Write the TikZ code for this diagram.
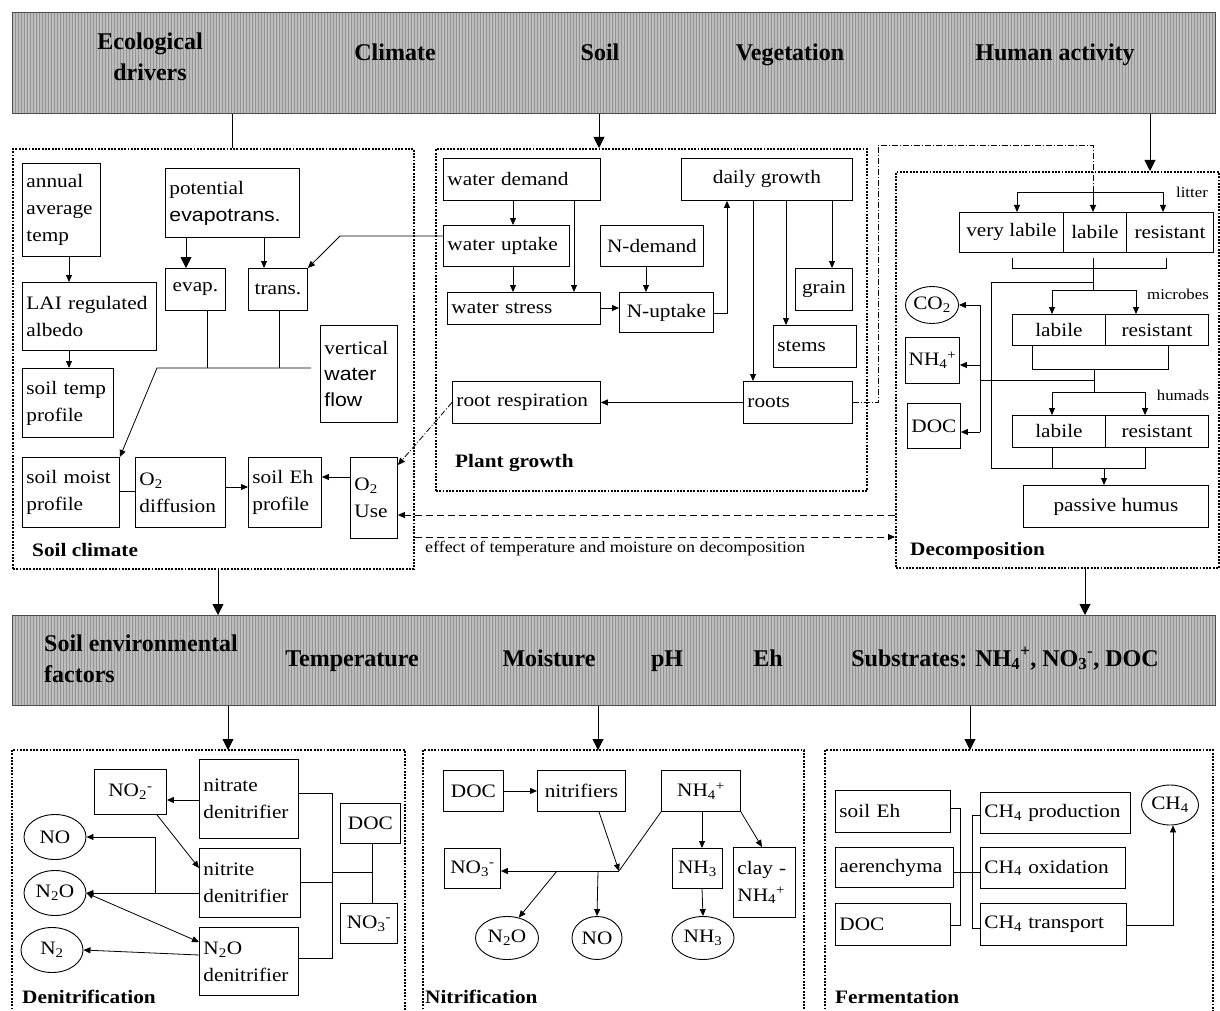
\documentclass[tikz,border=0pt]{standalone}
\usepackage{fontspec}
\setmainfont{Liberation Serif}[FakeStretch=1.12]
\setsansfont{Liberation Sans}[FakeStretch=1.12]
\newfontfamily\banfont{Liberation Serif}
\usetikzlibrary{arrows.meta,shapes.geometric,patterns}
\newcommand\myf{\fontsize{19}{27}\selectfont}
\newcommand\secf{\fontsize{19}{22}\selectfont\bfseries}
\newcommand\smf{\fontsize{15}{17}\selectfont}
\newcommand\banf{\banfont\fontsize{24}{31}\selectfont\bfseries}
\newcommand\sbs[1]{\textsubscript{#1}}
\newcommand\sps[1]{\textsuperscript{#1}}
\tikzset{
  bx/.style 2 args={draw, line width=0.9pt, anchor=north west, minimum width=#1, minimum height=#2, inner sep=2pt, align=center, font=\myf},
  lbx/.style n args={3}{draw, line width=0.9pt, anchor=north west, minimum width=#1, minimum height=#2, inner xsep=4pt, inner ysep=0pt, text width=#3, align=left, font=\myf},
  el/.style 2 args={draw, ellipse, line width=0.9pt, minimum width=#1, minimum height=#2, inner sep=0pt, font=\myf},
  dotbox/.style={line width=1.9pt, dash pattern=on 1.9pt off 1.4pt},
  secbox/.style 2 args={dotbox, draw, anchor=north west, minimum width=#1, minimum height=#2, inner sep=0pt},
  banner/.style 2 args={draw=black!70, line width=0.8pt, anchor=north west, minimum width=#1, minimum height=#2, inner sep=0pt, preaction={fill=black!26}, pattern=vertical lines, pattern color=black!42},
  bant/.style={font=\banf, align=center, inner sep=0pt},
  bantb/.style={font=\banf, anchor=base, inner sep=0pt},
  seclab/.style={font=\secf, anchor=west, inner sep=0pt},
  smlab/.style={font=\smf, inner sep=0pt},
  arr/.style={line width=0.8pt, -{Triangle[length=7pt,width=6pt]}},
  barr/.style={line width=0.9pt, -{Triangle[length=11pt,width=11pt]}},
  darr/.style={line width=0.8pt, {Triangle[length=7pt,width=6pt]}-{Triangle[length=7pt,width=6pt]}},
  ln/.style={line width=0.8pt},
  dd/.style={line width=0.8pt, dash pattern=on 6pt off 2pt on 1pt off 2pt},
  dsh/.style={line width=0.8pt, dash pattern=on 7pt off 4pt},
}
\begin{document}
\begin{tikzpicture}[x=1pt,y=-1pt]
\fill[white] (0,0) rectangle (1220,1011);
\useasboundingbox (0,0) rectangle (1220,1011);

% ---------- top banner ----------
\node[banner={1203}{101}] (ban1) at (12,12) {};
\node[bant] (t1) at (150,57) {Ecological\\drivers};
\node[bantb] (t2) at (395,61) {Climate};
\node[bantb] (t3) at (600,61) {Soil};
\node[bantb] (t4) at (790,61) {Vegetation};
\node[bantb] (t5) at (1055,61) {Human activity};

% ---------- section boxes ----------
\node[secbox={401}{420}] (sc) at (12,148) {};
\node[secbox={431}{342}] (pg) at (435,148) {};
\node[secbox={323}{396}] (dec) at (895,171) {};
\node[seclab] (scl) at (32,550) {Soil climate};
\node[seclab] (pgl) at (455,463) {Plant growth};
\node[seclab] (decl) at (910,551) {Decomposition};

\draw[ln] (232,0 |- ban1.south) -- (232,0 |- sc.north);
\draw[barr] (599,0 |- ban1.south) -- (599,0 |- pg.north);
\draw[barr] (1150,0 |- ban1.south) -- (1150,0 |- dec.north);

% ---------- soil climate ----------
\node[lbx={78}{93}{70pt}] (ann) at (22,163) {annual\\average\\temp};
\node[lbx={134}{68}{126pt}] (lai) at (22,282) {LAI regulated\\albedo};
\node[lbx={91}{69}{83pt}] (stp) at (22,368) {soil temp\\profile};
\node[lbx={134}{69}{126pt}] (pet) at (165,168) {potential\\{\sffamily evapotrans.}};
\node[bx={60}{42}] (evap) at (165,268) {evap.};
\node[bx={59}{42}] (trans) at (248,268) {trans.};
\node[lbx={77}{97}{69pt}, font=\fontsize{19}{26}\selectfont] (vwf) at (320,325) {vertical\\{\sffamily water}\\{\sffamily flow}};
\node[lbx={97}{70}{89pt}] (smp) at (22,457) {soil moist\\profile};
\node[lbx={90}{70}{82pt}] (o2d) at (135,457) {O\sbs{2}\\diffusion};
\node[lbx={73}{70}{65pt}] (seh) at (248,457) {soil Eh\\profile};
\node[lbx={47}{81}{39pt}] (o2u) at (350,457) {O\sbs{2}\\Use};

\draw[arr] (69,0 |- ann.south) -- (69,0 |- lai.north);
\draw[arr] (69,0 |- lai.south) -- (69,0 |- stp.north);
\draw[barr] (186,0 |- pet.south) -- (186,0 |- evap.north);
\draw[arr] (264,0 |- pet.south) -- (264,0 |- trans.north);
\draw[ln] (207,0 |- evap.south) -- (207,368);
\draw[ln] (279,0 |- trans.south) -- (279,368);
\draw[arr] ([xshift=-9pt]vwf.west |- 0,368) -- (157,368) -- (smp.north east);
\draw[ln] (smp.east |- 0,491) -- (o2d.west |- 0,491);
\draw[arr] (o2d.east |- 0,487) -- (seh.west |- 0,487);
\draw[arr] (o2u.west |- 0,477) -- (seh.east |- 0,477);

% ---------- plant growth ----------
\node[lbx={157}{42}{149pt}] (wd) at (443,158) {water demand};
\node[lbx={126}{41}{118pt}] (wu) at (443,225) {water uptake};
\node[lbx={153}{32}{145pt}] (ws) at (447,292) {water stress};
\node[bx={103}{41}] (nd) at (600,225) {N-demand};
\node[bx={94}{40}] (nu) at (619,292) {N-uptake};
\node[bx={171}{42}] (dg) at (681,158) {daily growth};
\node[bx={57}{42}] (grain) at (795,268) {grain};
\node[lbx={83}{42}{75pt}] (stems) at (773,325) {stems};
\node[lbx={109}{42}{101pt}] (roots) at (743,381) {roots};
\node[lbx={148}{42}{140pt}] (rr) at (452,381) {root respiration};

\draw[arr] (wu.west |- 0,236) -- (340,236) -- (trans.north east);
\draw[arr] (513,0 |- wd.south) -- (513,0 |- wu.north);
\draw[arr] (513,0 |- wu.south) -- (513,0 |- ws.north);
\draw[arr] (574,0 |- wd.south) -- (574,0 |- ws.north);
\draw[arr] (ws.east |- 0,308) -- (nu.west |- 0,308);
\draw[arr] (646,0 |- nd.south) -- (646,0 |- nu.north);
\draw[arr] (nu.east |- 0,313) -- (727,313) -- (727,0 |- dg.south);
\draw[arr] (753,0 |- dg.south) -- (753,0 |- roots.north);
\draw[arr] (786,0 |- dg.south) -- (786,0 |- stems.north);
\draw[arr] (832,0 |- dg.south) -- (832,0 |- grain.north);
\draw[arr] (roots.west) -- (rr.east);
\draw[dd, -{Triangle[length=7pt,width=6pt]}] (rr.west) -- (o2u.east |- 0,465);

% ---------- decomposition ----------
\coordinate (lit) at (1093,192);
\coordinate (litL) at (1017,192);
\coordinate (litR) at (1163,192);
\node[bx={104}{40}] (vl) at (959,212) {very labile};
\node[bx={63}{40}] (ll) at (1063,212) {labile};
\node[bx={87}{40}] (lr) at (1126,212) {resistant};
\node[bx={93}{31}] (ml) at (1012,314) {labile};
\node[bx={103}{31}] (mr) at (1105,314) {resistant};
\node[bx={93}{32}] (hl) at (1012,415) {labile};
\node[bx={103}{32}] (hr) at (1105,415) {resistant};
\node[bx={185}{42}] (ph) at (1023,485) {passive humus};
\node[el={52}{37}] (co2) at (932,305) {CO\sbs{2}};
\node[bx={54}{46}] (nh4) at (905,337) {NH\sbs{4}\sps{+}};
\node[bx={53}{45}] (doc) at (907,403) {DOC};
\node[smlab] (litl) at (1192,192) {litter};
\node[smlab] (micl) at (1178,294) {microbes};
\node[smlab] (huml) at (1183,395) {humads};

\draw[dd] (roots.east) -- (878,0 |- roots.east) -- (878,145) -- (1093,145) -- (lit);
\draw[ln] (litL) -- (litR);
\draw[arr] (litL) -- (litL |- vl.north);
\draw[arr] (lit) -- (lit |- ll.north);
\draw[arr] (litR) -- (litR |- lr.north);
\draw[ln] (1012,258) -- (1012,268) -- (1166,268) -- (1166,258);
\draw[ln] (1093,258) -- (1093,290);
\draw[ln] (1052,290) -- (1136,290);
\draw[arr] (1052,290) -- (1052,0 |- ml.north);
\draw[arr] (1136,290) -- (1136,0 |- mr.north);
\draw[ln] (1032,0 |- ml.south) -- (1032,369) -- (1168,369) -- (1168,0 |- mr.south);
\draw[ln] (1094,369) -- (1094,392);
\draw[ln] (1052,392) -- (1145,392);
\draw[arr] (1052,392) -- (1052,0 |- hl.north);
\draw[arr] (1145,392) -- (1145,0 |- hr.north);
\draw[ln] (1093,282) -- (991,282) -- (991,468) -- (1145,468) -- (1145,0 |- hr.south);
\draw[ln] (1052,0 |- hl.south) -- (1052,468);
\draw[arr] (1104,468) -- (1104,0 |- ph.north);
\draw[ln] (980,380) -- (1094,380);
\draw[ln] (980,305) -- (980,432);
\draw[arr] (980,305) -- (co2.east);
\draw[arr] (980,365) -- (nh4.east |- 0,365);
\draw[arr] (980,432) -- (doc.east |- 0,432);

% ---------- dashed effects ----------
\draw[dsh, -{Triangle[length=7pt,width=6pt]}] (dec.west |- 0,515) -- (o2u.east |- 0,515);
\draw[dsh, -{Triangle[length=7pt,width=6pt]}] (sc.east |- 0,537) -- (dec.west |- 0,537);
\node[font=\fontsize{16}{18}\selectfont, anchor=west, inner sep=0pt] (eff) at (425,549) {effect of temperature and moisture on decomposition};

% ---------- second banner ----------
\node[banner={1203}{90}] (ban2) at (12,615) {};
\node[font=\banf, align=left, anchor=west, inner sep=0pt] (s1) at (44,659) {Soil environmental\\factors};
\node[bantb] (s2) at (352,666) {Temperature};
\node[bantb] (s3) at (549,666) {Moisture};
\node[bantb] (s4) at (667,666) {pH};
\node[bantb] (s5) at (768,666) {Eh};
\node[bantb] (s6) at (1005,666) {Substrates: NH\sbs{4}\sps{+}, NO\sbs{3}\sps{-}, DOC};

\draw[barr] (218,0 |- sc.south) -- (218,0 |- ban2.north);
\draw[barr] (1085,0 |- dec.south) -- (1085,0 |- ban2.north);

% ---------- bottom sections ----------
\draw[dotbox] (12,1016) |- (405,750) -- (405,1016);
\draw[dotbox] (423,1016) |- (804,750) -- (804,1016);
\draw[dotbox] (825,1016) |- (1213,750) -- (1213,1016);
\coordinate (dent) at (228,750);
\coordinate (nitt) at (598,750);
\coordinate (fert) at (970,750);
\draw[barr] (dent |- ban2.south) -- (dent);
\draw[barr] (nitt |- ban2.south) -- (nitt);
\draw[barr] (fert |- ban2.south) -- (fert);
\node[seclab] (denl) at (22,997) {Denitrification};
\node[seclab] (nitl) at (425,997) {Nitrification};
\node[seclab] (ferl) at (835,997) {Fermentation};

% denitrification
\node[bx={72}{45}] (no2) at (94,769) {NO\sbs{2}\sps{-}};
\node[lbx={99}{79}{91pt}] (ntd) at (199,759) {nitrate\\denitrifier};
\node[lbx={101}{69}{93pt}] (nid) at (199,848) {nitrite\\denitrifier};
\node[lbx={99}{68}{91pt}] (n2od) at (199,927) {N\sbs{2}O\\denitrifier};
\node[el={62}{45}] (no) at (55,837) {NO};
\node[el={62}{45}] (n2o) at (55,893) {N\sbs{2}O};
\node[el={62}{45}] (n2) at (52,950) {N\sbs{2}};
\node[bx={60}{40}] (ddoc) at (340,803) {DOC};
\node[bx={57}{40}] (dno3) at (340,903) {NO\sbs{3}\sps{-}};

\draw[arr] (ntd.west |- 0,800) -- (no2.east |- 0,800);
\draw[arr] (157,0 |- no2.south) -- (nid.west |- 0,868);
\draw[arr] (nid.west |- 0,893) -- (n2o.east);
\draw[arr] (155,893) -- (155,837) -- (no.east);
\draw[darr] (n2o.east) -- (n2od.west |- 0,942);
\draw[arr] (n2od.west |- 0,955) -- (n2.east);
\draw[ln] (ntd.east |- 0,793) -- (332,793) -- (332,958) -- (n2od.east |- 0,958);
\draw[ln] (nid.east |- 0,882) -- (332,882);
\draw[ln] (332,872) -- (372,872);
\draw[ln] (372,0 |- ddoc.south) -- (372,0 |- dno3.north);

% nitrification
\node[bx={60}{41}] (ndoc) at (443,770) {DOC};
\node[bx={88}{41}] (nitr) at (537,770) {nitrifiers};
\node[bx={79}{41}] (nnh4) at (661,770) {NH\sbs{4}\sps{+}};
\node[bx={56}{40}] (nno3) at (444,848) {NO\sbs{3}\sps{-}};
\node[bx={50}{40}] (nnh3) at (672,848) {NH\sbs{3}};
\node[lbx={62}{70}{54pt}] (clay) at (733,847) {clay -\\NH\sbs{4}\sps{+}};
\node[el={63}{43}] (nn2o) at (507,938) {N\sbs{2}O};
\node[el={50}{43}] (nno) at (597,938) {NO};
\node[el={62}{43}] (nnh3e) at (703,938) {NH\sbs{3}};
\coordinate (jn) at (619,871);

\draw[arr] (ndoc.east) -- (nitr.west);
\draw[arr] (599,0 |- nitr.south) -- (jn);
\draw[ln] (nnh4.south west) -- (jn);
\draw[arr] (jn) -- (nno3.east |- jn);
\draw[arr] (557,871) -- (nn2o.60);
\draw[arr] (598,871) -- (nno.north);
\draw[arr] (702,0 |- nnh4.south) -- (702,0 |- nnh3.north);
\draw[arr] (702,0 |- nnh3.south) -- (nnh3e.north);
\draw[arr] (nnh4.south east) -- (762,0 |- clay.north);

% fermentation
\node[lbx={115}{42}{107pt}] (seh2) at (835,790) {soil Eh};
\node[lbx={118}{40}{110pt}] (aer) at (835,847) {aerenchyma};
\node[lbx={115}{42}{107pt}] (fdoc) at (835,903) {DOC};
\node[lbx={150}{41}{142pt}] (cp) at (980,792) {CH\sbs{4} production};
\node[lbx={145}{41}{137pt}] (cox) at (980,847) {CH\sbs{4} oxidation};
\node[lbx={146}{42}{138pt}] (ct) at (980,903) {CH\sbs{4} transport};
\node[el={57}{40}] (ch4) at (1170,805) {CH\sbs{4}};

\draw[ln] (seh2.east |- 0,808) -- (960,808) -- (960,925) -- (fdoc.east |- 0,925);
\draw[ln] (aer.east |- 0,872) -- (cox.west |- 0,872);
\draw[ln] (cp.west |- 0,815) -- (972,815) -- (972,928) -- (ct.west |- 0,928);
\draw[arr] (ct.east |- 0,925) -- (1173,925) -- (1173,0 |- ch4.south);
\end{tikzpicture}
\end{document}
